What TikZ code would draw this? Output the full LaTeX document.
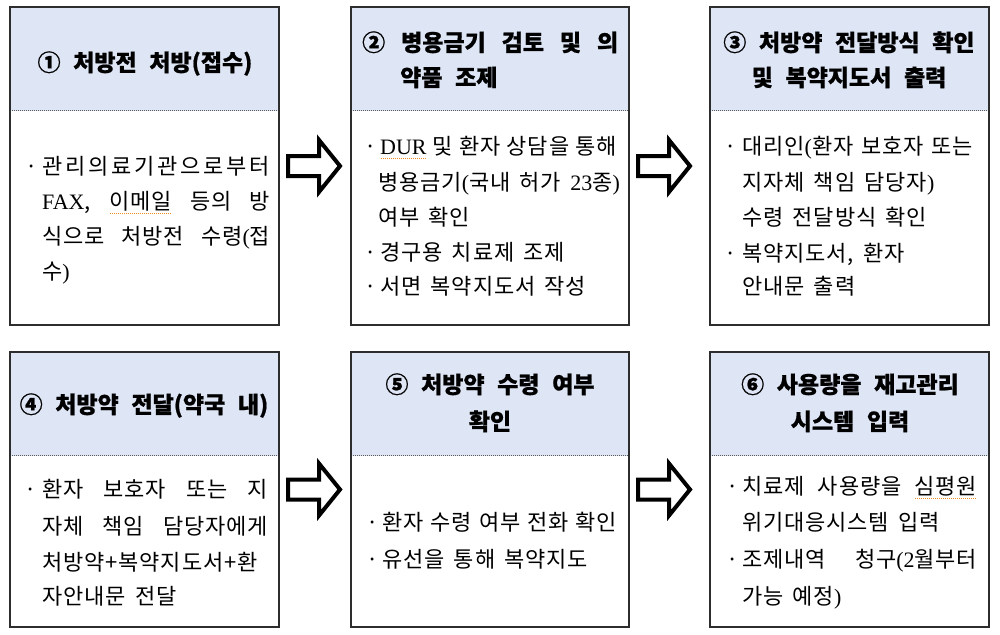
\documentclass[tikz,border=0pt]{standalone}
\usepackage{fontspec}
\setmainfont{Noto Sans CJK KR}[WordSpace=2.4, BoldFeatures={FakeBold=0.8}]
\newfontfamily\bodyfam{Noto Sans CJK KR}[WordSpace=1.6, LetterSpace=4]
\newfontfamily\lat{Liberation Serif}
\usetikzlibrary{calc}
\definecolor{hdrc}{RGB}{222,229,245}
\definecolor{sqc}{RGB}{240,140,40}
\definecolor{framec}{RGB}{45,45,45}
\newcommand\bodyf{\bodyfam\fontsize{22}{26}\selectfont}
\newcommand\hdrf{\fontsize{23}{27}\selectfont\bfseries}
\newcommand\squl[1]{\setbox0=\hbox{#1}\rlap{\raisebox{-4.5pt}{\color{sqc}\hbox to\wd0{\leaders\hbox to 2pt{\hss\rule{1pt}{0.8pt}\hss}\hfill}}}\box0\relax}
\newcommand\jl[2]{\makebox[#1][s]{#2}}
\newcommand\lp{{\lat(}}
\newcommand\rp{{\lat)}}
\begin{document}
\begin{tikzpicture}[x=1pt,y=-1pt,
  stepbox/.style={draw=framec, line width=1.2pt, inner sep=0pt, outer sep=0pt,
    minimum width=269pt, minimum height=#1,
    path picture={
      \fill[hdrc] (path picture bounding box.north west) rectangle ([yshift=-103.5pt]path picture bounding box.north east);
      \draw[gray!70!black, line width=0.8pt, dash pattern=on 1pt off 1pt]
        ([yshift=-103.5pt]path picture bounding box.north west) -- ([yshift=-103.5pt]path picture bounding box.north east);
    }},
  htxt/.style={anchor=base, inner sep=0pt, font=\hdrf},
  hltxt/.style={anchor=base west, inner sep=0pt, font=\hdrf},
  btxt/.style={anchor=base west, inner sep=0pt, font=\bodyf},
  bul/.style={anchor=base, inner sep=0pt, font=\bodyf},
  barrow/.style={draw=black, line width=4pt, fill=white, line join=miter, miter limit=10}]
\useasboundingbox (0,0) rectangle (1000,634);
\fill[white] (0,0) rectangle (1000,634);

% boxes
\node[stepbox=318pt] (b1) at (144.5,166) {};
\node[stepbox=318pt, minimum width=278pt] (b2) at (490,166) {};
\node[stepbox=318pt, minimum width=279pt] (b3) at (849.5,166) {};
\node[stepbox=275pt] (b4) at (144.5,489.5) {};
\node[stepbox=275pt, minimum width=278pt] (b5) at (490,489.5) {};
\node[stepbox=275pt, minimum width=279pt] (b6) at (849.5,489.5) {};

% block arrows
\draw[barrow, shift={(b1.east)}] (9,-10) -- (40,-10) -- (40,-26) -- (61,0) -- (40,26) -- (40,10) -- (9,10) -- cycle;
\draw[barrow, shift={(b2.east)}] (9,-10) -- (40,-10) -- (40,-26) -- (61,0) -- (40,26) -- (40,10) -- (9,10) -- cycle;
\draw[barrow, shift={(b4.east)}] (9,-10) -- (40,-10) -- (40,-26) -- (61,0) -- (40,26) -- (40,10) -- (9,10) -- cycle;
\draw[barrow, shift={(b5.east)}] (9,-10) -- (40,-10) -- (40,-26) -- (61,0) -- (40,26) -- (40,10) -- (9,10) -- cycle;

% box 1
\node[htxt] (h1) at (145,71) {① 처방전 처방(접수)};
\node[bul] (d1a) at (32,174) {·};
\node[btxt] (t1a) at (42,174) {\makebox[228pt]{관\hfill 리\hfill 의\hfill 료\hfill 기\hfill 관\hfill 으\hfill 로\hfill 부\hfill 터}};
\node[btxt] (t1b) at (42,209) {\jl{228pt}{{\lat FAX}, \squl{이메일} 등의 방}};
\node[btxt] (t1c) at (42,244) {\jl{228pt}{식으로 처방전 수령\lp 접}};
\node[btxt] (t1d) at (42,279) {수\rp};

% box 2
\node[hltxt] (h2a) at (362,51) {\jl{256pt}{② 병용금기 검토 및 의}};
\node[hltxt] (h2b) at (400,86) {약품 조제};
\node[bul] (d2a) at (371,154) {·};
\node[btxt] (t2a) at (380,154) {\jl{235pt}{\squl{\lat DUR} 및 환자 상담을 통해}};
\node[btxt] (t2b) at (378,190) {병용금기\lp 국내 허가 {\lat 23}종\rp};
\node[btxt] (t2c) at (378,225) {여부 확인};
\node[bul] (d2d) at (371,260) {·};
\node[btxt] (t2d) at (380,260) {경구용 치료제 조제};
\node[bul] (d2e) at (371,294) {·};
\node[btxt] (t2e) at (380,294) {서면 복약지도서 작성};

% box 3
\node[htxt] (h3a) at (849,51) {③ 처방약 전달방식 확인};
\node[htxt] (h3b) at (849,86) {및 복약지도서 출력};
\node[bul] (d3a) at (731,154) {·};
\node[btxt] (t3a) at (742,154) {\jl{231pt}{대리인\lp 환자 보호자 또는}};
\node[btxt] (t3b) at (742,190) {지자체 책임 담당자\rp};
\node[btxt] (t3c) at (742,225) {수령 전달방식 확인};
\node[bul] (d3d) at (731,261) {·};
\node[btxt] (t3d) at (742,261) {복약지도서, 환자};
\node[btxt] (t3e) at (742,294) {안내문 출력};

% box 4
\node[htxt] (h4) at (144,413) {④ 처방약 전달(약국 내)};
\node[bul] (d4a) at (31,497) {·};
\node[btxt] (t4a) at (42,497) {\jl{226pt}{환자 보호자 또는 지}};
\node[btxt] (t4b) at (42,534) {\jl{226pt}{자체 책임 담당자에게}};
\node[btxt] (t4c) at (42,570) {처방약+복약지도서+환};
\node[btxt] (t4d) at (42,604) {자안내문 전달};

% box 5
\node[htxt] (h5a) at (490,393) {⑤ 처방약 수령 여부};
\node[htxt] (h5b) at (490,430) {확인};
\node[bul] (d5a) at (373,530) {·};
\node[btxt] (t5a) at (382,530) {\jl{235pt}{환자 수령 여부 전화 확인}};
\node[bul] (d5b) at (373,567) {·};
\node[btxt] (t5b) at (382,567) {유선을 통해 복약지도};

% box 6
\node[htxt] (h6a) at (850,393) {⑥ 사용량을 재고관리};
\node[htxt] (h6b) at (850,430) {시스템 입력};
\node[bul] (d6a) at (733,494) {·};
\node[btxt] (t6a) at (742,494) {\jl{235pt}{치료제 사용량을 \squl{심평원}}};
\node[btxt] (t6b) at (742,530) {위기대응시스템 입력};
\node[bul] (d6c) at (733,567) {·};
\node[btxt] (t6c) at (742,567) {\jl{235pt}{조제내역 청구\lp{\lat 2}월부터}};
\node[btxt] (t6d) at (742,604) {가능 예정\rp};
\end{tikzpicture}
\end{document}
